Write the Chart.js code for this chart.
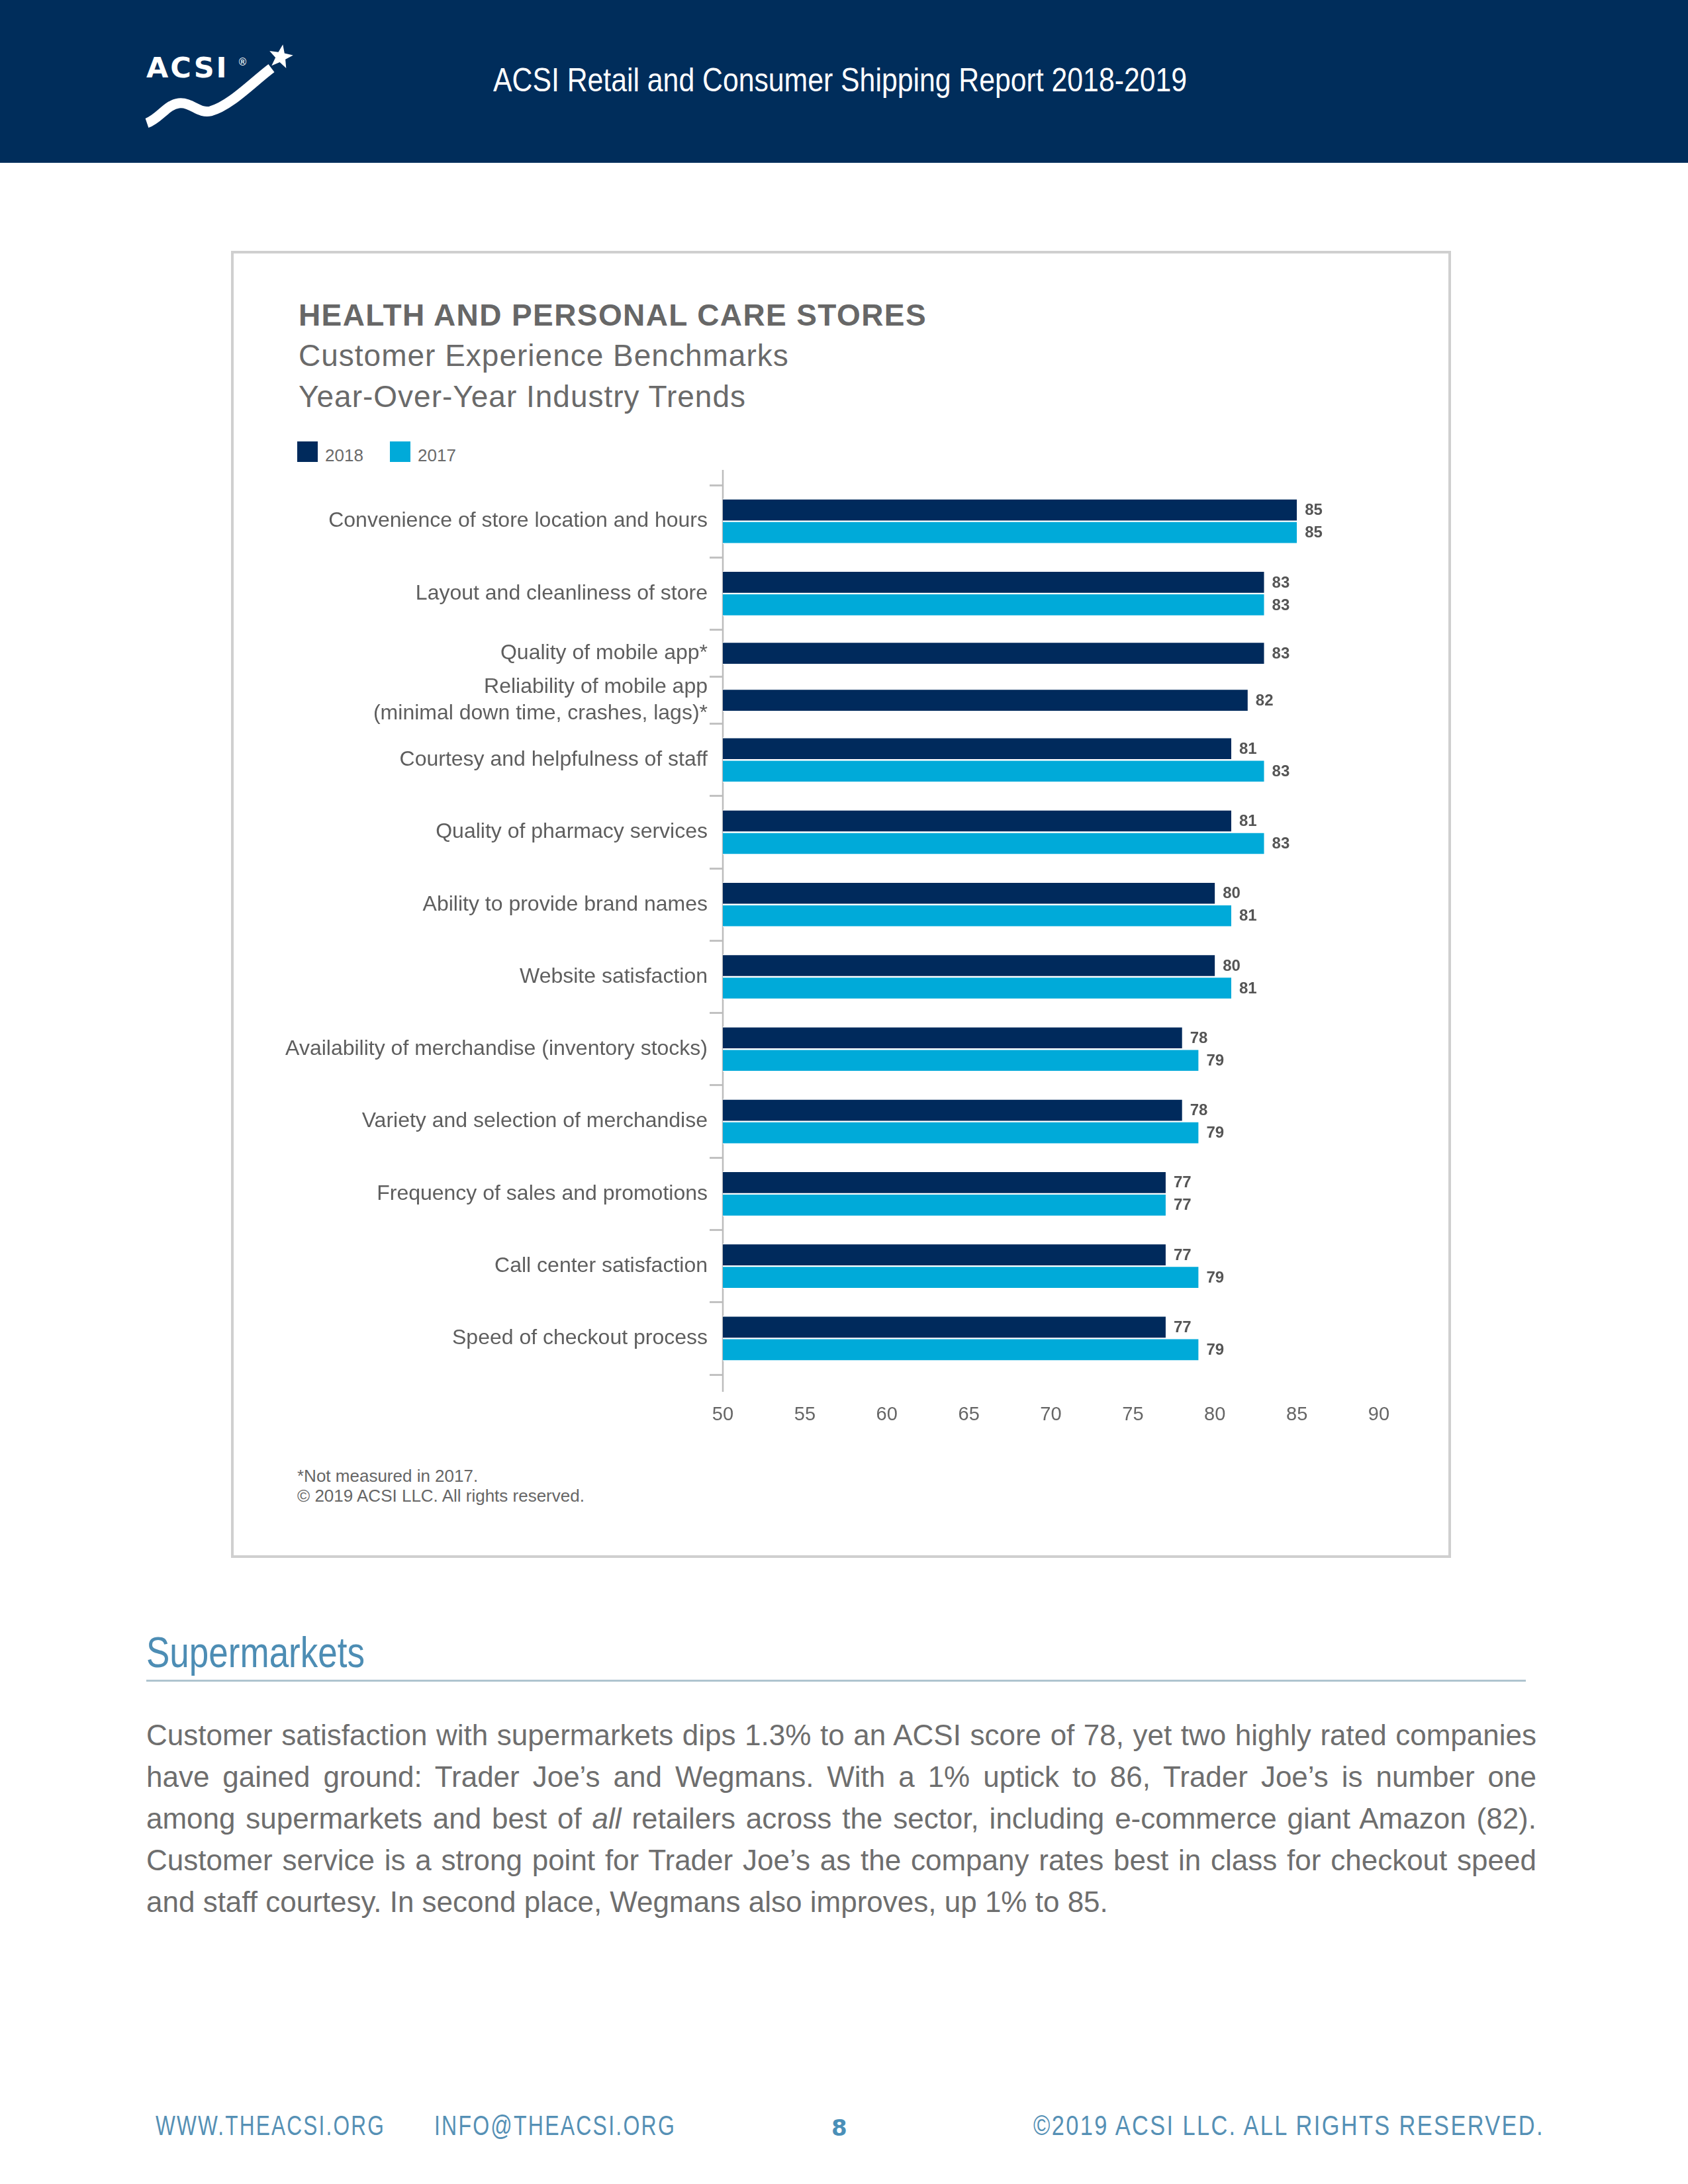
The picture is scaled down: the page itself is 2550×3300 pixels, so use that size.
<!DOCTYPE html>
<html>
<head>
<meta charset="utf-8">
<script src="https://cdn.jsdelivr.net/npm/chart.js@4.4.1/dist/chart.umd.min.js"></script>
<style>
  html, body { margin: 0; padding: 0; background: #fff; }
  #page { position: relative; width: 2550px; height: 3300px; overflow: hidden; font-family: "Liberation Sans", Arial, sans-serif; }
  .abs { position: absolute; white-space: nowrap; }
  .header { position: absolute; left: 0; top: 0; width: 2550px; height: 246px; background: #002d5b; }
  .htitle { left: 745px; top: 96px; font: 50px/1 "Liberation Sans", Arial, sans-serif; color: #fff; }
  .box { position: absolute; left: 349px; top: 379px; width: 1835px; height: 1967px; border: 4px solid #cfcfcf; }
  .t1 { left: 451px; top: 453px; font: bold 46px/1 "Liberation Sans", Arial, sans-serif; color: #676767; letter-spacing: 1.4px; }
  .t2 { left: 451px; top: 514px; font: 46px/1 "Liberation Sans", Arial, sans-serif; color: #6a6a6a; letter-spacing: 1px; }
  .t3 { left: 451px; top: 576px; font: 46px/1 "Liberation Sans", Arial, sans-serif; color: #6a6a6a; letter-spacing: 1px; }
  .lg-box { position: absolute; width: 31px; height: 31px; top: 667px; }
  .lg-txt { top: 675px; font: 26px/1 "Liberation Sans", Arial, sans-serif; color: #6a6a6a; }
  #chartWrap { position: absolute; left: 380px; top: 690px; width: 1790px; height: 1500px; }
  .note { left: 449px; top: 2215px; font: 26px/30px "Liberation Sans", Arial, sans-serif; color: #666; }
  .h2 { left: 221px; top: 2464px; font: 65px/1 "Liberation Sans", Arial, sans-serif; color: #4d8db4; }
  .rule { position: absolute; left: 221px; top: 2538px; width: 2084px; height: 3px; background: #afc4cf; }
  .para { position: absolute; left: 221px; top: 2590px; width: 2100px; font: 44px/63px "Liberation Sans", Arial, sans-serif; color: #6e6e6e; }
  .para div { text-align: justify; text-align-last: justify; white-space: nowrap; }
  .para div.last { text-align-last: left; }
  .foot { top: 3190px; font: 43px/1 "Liberation Sans", Arial, sans-serif; color: #5590b5; letter-spacing: 3px; }
  .pnum { left: 1256px; top: 3198px; font: bold 34px/1 "DejaVu Sans", sans-serif; color: #4a8fb8; }
</style>
</head>
<body>
<div id="page">
  <div class="header">
    <svg width="500" height="246" style="position:absolute;left:0;top:0">
      <text x="221" y="117" fill="#fff" font-family="DejaVu Sans" font-weight="bold" font-size="43" letter-spacing="3">ACSI</text>
      <text x="359" y="99" fill="#fff" font-family="DejaVu Sans" font-size="15">®</text>
      <path d="M222 186 C240 180, 252 158, 270 156 C290 154, 300 172, 318 168 C348 160, 382 124, 410 103" stroke="#fff" stroke-width="15" fill="none"/>
      <polygon fill="#fff" points="427.3,67.3 429.8,80.4 442.8,83.4 431.1,89.8 432.3,103.1 422.6,93.9 410.3,99.2 416.1,87.1 407.2,77.1 420.5,78.8"/>
    </svg>
    <div class="abs htitle" data-w="1048">ACSI Retail and Consumer Shipping Report 2018-2019</div>
  </div>

  <div class="box"></div>
  <div class="abs t1">HEALTH AND PERSONAL CARE STORES</div>
  <div class="abs t2">Customer Experience Benchmarks</div>
  <div class="abs t3">Year-Over-Year Industry Trends</div>
  <div id="legend"></div>

  <div id="chartWrap"><canvas id="chart" width="1790" height="1500"></canvas></div>

  <div class="abs note">*Not measured in 2017.<br>© 2019 ACSI LLC. All rights reserved.</div>

  <div class="abs h2" data-w="330">Supermarkets</div>
  <div class="rule"></div>
  <div class="para">
    <div>Customer satisfaction with supermarkets dips 1.3% to an ACSI score of 78, yet two highly rated companies</div>
    <div>have gained ground: Trader Joe’s and Wegmans. With a 1% uptick to 86, Trader Joe’s is number one</div>
    <div>among supermarkets and best of <i>all</i> retailers across the sector, including e-commerce giant Amazon (82).</div>
    <div>Customer service is a strong point for Trader Joe’s as the company rates best in class for checkout speed</div>
    <div class="last">and staff courtesy. In second place, Wegmans also improves, up 1% to 85.</div>
  </div>

  <div class="abs foot" style="left:235px" data-w="347">WWW.THEACSI.ORG</div>
  <div class="abs foot" style="left:656px" data-w="365">INFO@THEACSI.ORG</div>
  <div class="abs pnum">8</div>
  <div class="abs foot" style="left:1561px" data-w="772">©2019 ACSI LLC. ALL RIGHTS RESERVED.</div>
</div>

<script>
// データ
const categories = [
    'Convenience of store location and hours',
    'Layout and cleanliness of store',
    'Quality of mobile app*',
    ['Reliability of mobile app', '(minimal down time, crashes, lags)*'],
    'Courtesy and helpfulness of staff',
    'Quality of pharmacy services',
    'Ability to provide brand names',
    'Website satisfaction',
    'Availability of merchandise (inventory stocks)',
    'Variety and selection of merchandise',
    'Frequency of sales and promotions',
    'Call center satisfaction',
    'Speed of checkout process'
];
const scores2018 = [85, 83, 83, 82, 81, 81, 80, 80, 78, 78, 77, 77, 77];
const scores2017 = [85, 83, null, null, 83, 83, 81, 81, 79, 79, 77, 79, 79];
const xTicks = [50, 55, 60, 65, 70, 75, 80, 85, 90];
const seriesNames = ['2018', '2017'];
const seriesColors = ['#002a5c', '#00aad9'];

// 細い書体の代わりに横幅を縮める
document.querySelectorAll('[data-w]').forEach(el => {
    const w = el.getBoundingClientRect().width;
    el.style.transformOrigin = '0 0';
    el.style.transform = `scaleX(${el.dataset.w / w})`;
});

// 2017の無い項目は行の高さを詰める（元の図と同じ）
const rowSize = scores2017.map(v => v == null ? 0.65 : 1);
const centers = [];
const bounds = [0];
let total = 0;
rowSize.forEach(s => {
    centers.push(total + s / 2);
    total += s;
    bounds.push(total);
});
const labelAt = new Map(centers.map((c, i) => [c, categories[i]]));

// 凡例
const legend = document.getElementById('legend');
seriesNames.forEach((name, i) => {
    const left = 449 + i * 140;
    legend.innerHTML += `<div class="lg-box" style="left:${left}px;background:${seriesColors[i]}"></div>` +
        `<div class="abs lg-txt" style="left:${left + 42}px">${name}</div>`;
});

// 数値ラベルと縦軸
const valueLabels = {
    id: 'valueLabels',
    beforeDatasetsDraw(chart) {
        const a = chart.chartArea;
        const ctx = chart.ctx;
        ctx.save();
        ctx.strokeStyle = '#bcbcbc';
        ctx.lineWidth = 2.5;
        ctx.beginPath();
        ctx.moveTo(a.left, a.top - 23);
        ctx.lineTo(a.left, a.bottom + 26);
        ctx.stroke();
        ctx.restore();
    },
    afterDatasetsDraw(chart) {
        const ctx = chart.ctx;
        ctx.save();
        ctx.font = 'bold 24px "Liberation Sans", Arial, sans-serif';
        ctx.fillStyle = '#555';
        ctx.textBaseline = 'middle';
        chart.data.datasets.forEach((ds, d) => {
            chart.getDatasetMeta(d).data.forEach((bar, i) => {
                const v = ds.data[i].x;
                if (v == null) return;
                ctx.fillText(v, bar.x + 12, bar.y + 1);
            });
        });
        ctx.restore();
    }
};

const makeSet = (scores, i) => ({
    label: seriesNames[i],
    data: scores.map((v, k) => ({ x: v, y: centers[k] })),
    backgroundColor: seriesColors[i],
    borderColor: 'rgba(255,255,255,0.9)',
    borderWidth: { top: 1.5, bottom: 1.5, left: 0, right: 0 },
    barThickness: 34,
    skipNull: true
});

new Chart(document.getElementById('chart'), {
    type: 'bar',
    data: { datasets: [makeSet(scores2018, 0), makeSet(scores2017, 1)] },
    plugins: [valueLabels],
    options: {
        indexAxis: 'y',
        responsive: false,
        animation: false,
        devicePixelRatio: 1,
        layout: { padding: { left: 0, top: 43, right: 87, bottom: 13 } },
        plugins: { legend: { display: false }, tooltip: { enabled: false } },
        scales: {
            x: {
                type: 'linear',
                position: 'bottom',
                min: xTicks[0],
                max: xTicks[xTicks.length - 1],
                afterBuildTicks: (scale) => { scale.ticks = xTicks.map(v => ({ value: v })); },
                afterFit: (scale) => { scale.height = 100; },
                grid: { display: false },
                border: { display: false },
                ticks: { padding: 36, color: '#666', font: { size: 29, family: '"Liberation Sans", Arial, sans-serif' } }
            },
            y: {
                type: 'linear',
                reverse: true,
                offset: false,
                min: 0,
                max: total,
                afterBuildTicks: (scale) => {
                    scale.ticks = bounds.concat(centers).sort((a, b) => a - b).map(v => ({ value: v }));
                },
                afterFit: (scale) => { scale.width = 712; },
                grid: {
                    offset: false,
                    drawOnChartArea: false,
                    tickLength: 20,
                    lineWidth: 3,
                    color: (c) => (c.tick && bounds.includes(c.tick.value)) ? '#c2c2c2' : 'rgba(0,0,0,0)'
                },
                border: { display: false },
                ticks: {
                    autoSkip: false,
                    padding: 3,
                    color: '#5e5e5e',
                    font: { size: 32, lineHeight: 1.25, family: '"Liberation Sans", Arial, sans-serif' },
                    callback: (value) => labelAt.get(value) ?? ''
                }
            }
        }
    }
});
</script>
</body>
</html>
